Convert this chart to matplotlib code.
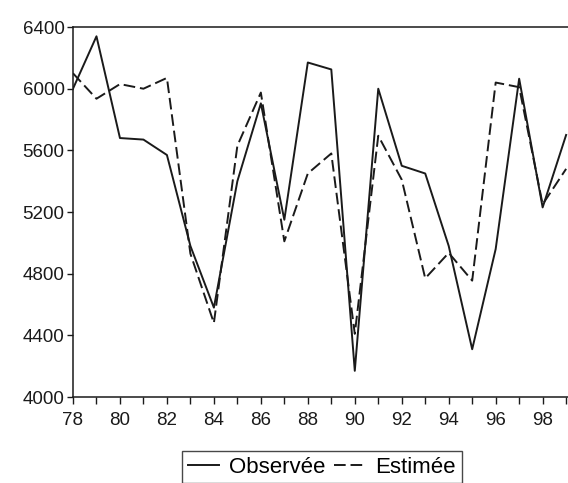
import matplotlib.pyplot as plt

plt.rcParams['font.family'] = ['Liberation Sans', 'DejaVu Sans']

# data
years = list(range(1978, 2000))
observee = [6000, 6340, 5680, 5670, 5570, 4980, 4580, 5400, 5905, 5150, 6170, 6125,
            4170, 6000, 5500, 5450, 4980, 4310, 4960, 6065, 5230, 5700]
estimee = [6100, 5935, 6030, 6000, 6070, 4930, 4480, 5630, 5975, 5010, 5450, 5580,
           4410, 5695, 5410, 4770, 4935, 4755, 6040, 6010, 5250, 5480]
xticks = list(range(1978, 1999, 2))
xlabels = [f"{y % 100:02d}" for y in xticks]
yticks = [4000, 4400, 4800, 5200, 5600, 6000, 6400]

fig = plt.figure(figsize=(5.68, 4.83), dpi=100)
ax = fig.add_axes([0.1285, 0.178, 0.8715, 0.766])

ax.plot(years, observee, color='#1a1a1a', lw=1.4, label='Observée')
ax.plot(years, estimee, color='#1a1a1a', lw=1.4, dashes=(6, 2.5), label='Estimée')

ax.set_xlim(1978, 1999.08)
ax.set_ylim(4000, 6400)
ax.set_xticks(xticks)
ax.set_xticklabels(xlabels)
ax.set_xticks(range(1979, 2000, 2), minor=True)
ax.set_yticks(yticks)

ax.spines['right'].set_visible(False)
for s in ['left', 'top', 'bottom']:
    ax.spines[s].set_linewidth(1.1)
    ax.spines[s].set_color('#1a1a1a')

ax.tick_params(axis='both', which='both', direction='out', length=5, width=1,
               color='#1a1a1a', labelsize=13.5, labelcolor='#1a1a1a')
ax.tick_params(axis='y', length=4, pad=2)
ax.tick_params(axis='x', pad=6)

leg = fig.legend(loc='upper center', bbox_to_anchor=(322 / 568, 1 - 451 / 483),
                 ncol=2, frameon=True, fancybox=False, fontsize=16,
                 handlelength=1.4, columnspacing=0.4, handletextpad=0.45,
                 borderpad=0.25, borderaxespad=0, edgecolor='#1a1a1a')
leg.get_frame().set_linewidth(1.0)

fig.savefig('out.png', dpi=100)
